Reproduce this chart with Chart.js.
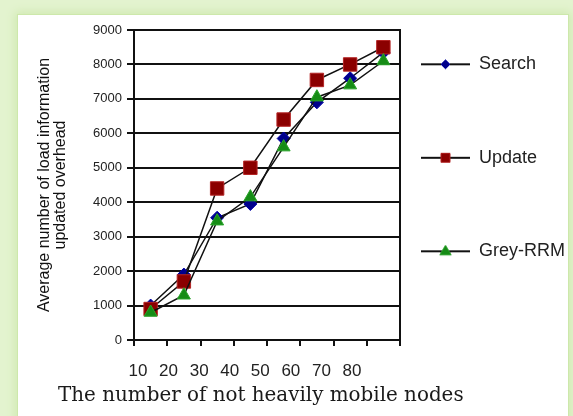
<!DOCTYPE html>
<html>
<head>
<meta charset="utf-8">
<script src="https://cdn.jsdelivr.net/npm/chart.js"></script>
<style>
  html, body { margin: 0; padding: 0; width: 573px; height: 416px; overflow: hidden; background: #e3f3cf; }
  .panel { position: absolute; left: 18px; top: 15px; width: 550px; height: 420px; background: #fff;
           box-shadow: 0 0 0 1px #cde8ab, 0 0 9px 3px #cfe9b0; }
  #wrap { position: absolute; left: 0; top: 0; width: 573px; height: 416px; }
</style>
</head>
<body>
<div class="panel"></div>
<div id="wrap"><canvas id="chart" width="573" height="416"></canvas></div>
<script>
// Number of not heavily mobile nodes
const categories = ['10', '20', '30', '40', '50', '60', '70', '80'];
const xTickLabels = [10, 20, 30, 40, 50, 60, 70, 80];

// Average number of load information updated overhead
const searchValues  = [1000, 1900, 3550, 3950, 5850, 6900, 7600, 8350];
const updateValues  = [900, 1700, 4400, 5000, 6400, 7550, 8000, 8500];
const greyRrmValues = [800, 1300, 3450, 4150, 5600, 7050, 7400, 8100];

const yMin = 0, yMax = 9000, yStep = 1000;

const INK = '#111';

// Legend sample: a short line with the series marker in its middle
function legendSample(shape, fill, edge, r) {
  const c = document.createElement('canvas');
  c.width = 49; c.height = 16;
  const g = c.getContext('2d');
  const cx = 24.5, cy = 8;
  g.strokeStyle = INK; g.lineWidth = 2;
  g.beginPath(); g.moveTo(0, cy); g.lineTo(49, cy); g.stroke();
  g.fillStyle = fill; g.strokeStyle = edge; g.lineWidth = 1;
  g.beginPath();
  if (shape === 'diamond') {
    g.moveTo(cx, cy - r); g.lineTo(cx + r, cy); g.lineTo(cx, cy + r); g.lineTo(cx - r, cy); g.closePath();
  } else if (shape === 'square') {
    g.rect(cx - r, cy - r, 2 * r, 2 * r);
  } else {
    g.moveTo(cx, cy - r); g.lineTo(cx + r * 0.95, cy + r * 0.6); g.lineTo(cx - r * 0.95, cy + r * 0.6); g.closePath();
  }
  g.fill(); g.stroke();
  return c;
}
const samples = [
  legendSample('diamond', '#00008b', '#0000a0', 4.5),
  legendSample('square', '#8b0000', '#b02020', 4.5),
  legendSample('triangle', '#158a15', '#2aa02a', 6)
];

new Chart(document.getElementById('chart'), {
  type: 'line',
  data: {
    labels: categories,
    datasets: [
      { label: 'Search', data: searchValues, order: 2,
        borderColor: INK, borderWidth: 1.5, tension: 0,
        pointStyle: 'rectRot', pointRadius: 6.5, pointBorderWidth: 1,
        pointBackgroundColor: '#00008b', pointBorderColor: '#0000a8' },
      { label: 'Update', data: updateValues, order: 1,
        borderColor: INK, borderWidth: 1.5, tension: 0,
        pointStyle: 'rect', pointRadius: 9.5, pointBorderWidth: 1,
        pointBackgroundColor: '#8b0000', pointBorderColor: '#b52525' },
      { label: 'Grey-RRM', data: greyRrmValues, order: 0,
        borderColor: INK, borderWidth: 1.5, tension: 0,
        pointStyle: 'triangle', pointRadius: 7.5, pointBorderWidth: 1,
        pointBackgroundColor: '#168c16', pointBorderColor: '#2aa52a' }
    ]
  },
  options: {
    responsive: false,
    animation: false,
    layout: { padding: { left: 58, top: 30, right: 0, bottom: 0 } },
    plugins: {
      tooltip: { enabled: false },
      title: {
        display: true,
        position: 'bottom',
        fullSize: true,
        align: 'start',
        text: 'The number of not heavily mobile nodes',
        color: '#1a1a1a',
        font: { family: '"DejaVu Serif", serif', size: 19.9, weight: 'normal', lineHeight: 1.2 },
        padding: { top: 0, bottom: 8.5 }
      },
      legend: {
        position: 'right',
        align: 'center',
        fullSize: false,
        maxWidth: 173,
        labels: {
          usePointStyle: true,
          pointStyleWidth: 49,
          padding: 21,
          color: '#222',
          font: { family: '"Liberation Sans", Arial, sans-serif', size: 18, lineHeight: '72.5px' },
          sort: (a, b) => a.datasetIndex - b.datasetIndex,
          generateLabels(chart) {
            const items = Chart.defaults.plugins.legend.labels.generateLabels(chart);
            items.forEach(it => {
              it.text = [it.text];
              it.pointStyle = samples[it.datasetIndex];
            });
            return items;
          }
        }
      }
    },
    scales: {
      x: {
        type: 'category',
        position: 'bottom',
        offset: true,
        grid: { display: true, drawOnChartArea: false, drawTicks: true, tickLength: 6,
                offset: true, color: INK, lineWidth: 2 },
        border: { display: true, color: INK, width: 2 },
        ticks: { display: false },
        afterFit: axis => { axis.height = 6; }
      },
      x2: {
        type: 'linear',
        position: 'bottom',
        min: 8.69,
        max: 95.7,
        grid: { display: false, drawTicks: false },
        border: { display: false },
        afterBuildTicks: axis => { axis.ticks = xTickLabels.map(v => ({ value: v })); },
        ticks: {
          autoSkip: false, maxRotation: 0, padding: 15, color: '#222',
          font: { family: '"Liberation Sans", Arial, sans-serif', size: 17 },
          callback: v => String(v)
        },
        afterFit: axis => { axis.height = 37.6; }
      },
      y: {
        type: 'linear',
        position: 'left',
        min: yMin,
        max: yMax,
        ticks: { stepSize: yStep, padding: 5, color: '#222',
                 font: { family: '"Liberation Sans", Arial, sans-serif', size: 13 },
                 callback: v => String(v) },
        grid: { color: INK, lineWidth: 2, drawTicks: true, tickLength: 7 },
        border: { display: true, color: INK, width: 2 },
        title: {
          display: true,
          text: ['Average number of load information', 'updated overhead'],
          color: '#111',
          font: { family: '"Liberation Sans", Arial, sans-serif', size: 16, lineHeight: '16px' },
          padding: { top: -21, bottom: 0 }
        },
        afterFit: axis => { axis.width = 76; }
      },
      y2: {
        type: 'linear',
        position: 'right',
        display: true,
        grid: { display: false, drawTicks: false },
        ticks: { display: false },
        border: { display: true, color: INK, width: 2 },
        afterFit: axis => { axis.width = 0; }
      }
    }
  }
});
</script>
</body>
</html>
